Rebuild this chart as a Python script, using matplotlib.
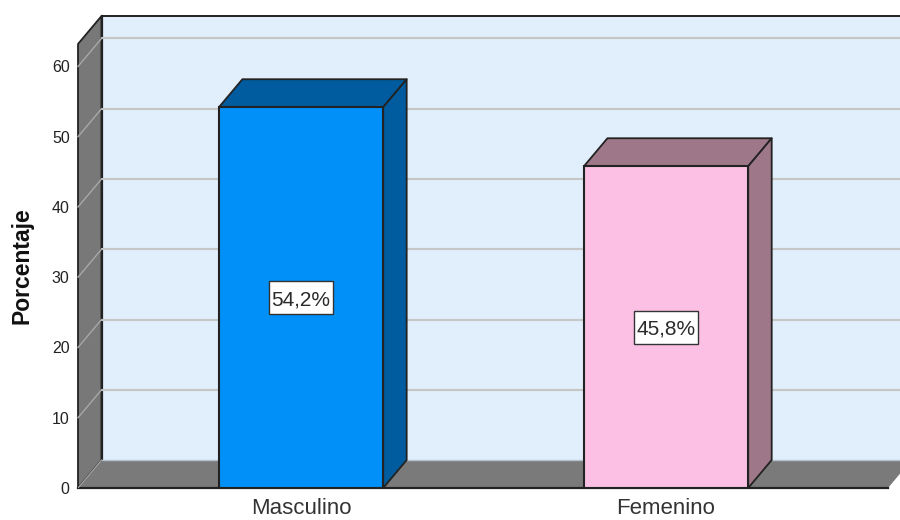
import matplotlib
matplotlib.use('Agg')
import matplotlib.pyplot as plt
from matplotlib.patches import Polygon, Rectangle

plt.rcParams['font.family'] = ['Liberation Sans', 'DejaVu Sans']

categories = ['Masculino', 'Femenino']
values = [54.2, 45.8]
value_labels = ['54,2%', '45,8%']
yticks = [0, 10, 20, 30, 40, 50, 60]
front_colors = ['#0090f8', '#fbc0e3']
shade_colors = ['#005c9e', '#9e7889']

bar_w = 0.45
dx = 23.5 / 365
dy = 28 / 7.03
x0, x1 = -0.611, 1.608
y1 = 63.2
box_w = 64 / 365
box_h = 33 / 7.03
edge = '#222222'


def poly(ax, pts, fc, ec=edge, lw=1.3, z=1):
    ax.add_patch(Polygon(pts, closed=True, facecolor=fc, edgecolor=ec, linewidth=lw,
                         zorder=z, clip_on=False, joinstyle='round'))


fig = plt.figure(figsize=(9, 5.2), dpi=100)
ax = fig.add_axes([78 / 900, 32 / 520, 810 / 900, 444 / 520])
ax.set_xlim(x0, x1)
ax.set_ylim(0, y1)
for s in ax.spines.values():
    s.set_visible(False)
ax.patch.set_visible(False)

# back wall, left wall, floor
poly(ax, [(x0 + dx, dy), (x1 + dx, dy), (x1 + dx, y1 + dy), (x0 + dx, y1 + dy)], '#e1eefb', ec='none', z=1)
poly(ax, [(x0, 0), (x0 + dx, dy), (x0 + dx, y1 + dy), (x0, y1)], '#787878', z=2)
poly(ax, [(x0, 0), (x1, 0), (x1 + dx, dy), (x0 + dx, dy)], '#7a7a7a', ec='none', z=2)
ax.plot([x0 + dx, x1 + dx], [y1 + dy, y1 + dy], color=edge, lw=1.4, zorder=3, clip_on=False)
ax.plot([x0, x1], [0, 0], color=edge, lw=1.6, zorder=3, clip_on=False)
ax.plot([x0 + dx, x0 + dx], [dy, y1 + dy], color=edge, lw=1.6, zorder=3, clip_on=False)
ax.plot([x0 + dx, x1 + dx], [dy, dy], color='#b4c0cc', lw=1, zorder=3, clip_on=False)
ax.plot([x0, x0 + dx], [0, dy], color='#a8a8a8', lw=0.8, zorder=3)

# gridlines on wall
for t in yticks[1:]:
    ax.plot([x0 + dx, x1 + dx], [t + dy, t + dy], color='#c6c6c6', lw=1.5, zorder=3, clip_on=False)
    ax.plot([x0, x0 + dx], [t, t + dy], color='#a8a8a8', lw=1, zorder=3, clip_on=False)

# bars
for i, v in enumerate(values):
    l, r = i - bar_w / 2, i + bar_w / 2
    poly(ax, [(l, v), (r, v), (r + dx, v + dy), (l + dx, v + dy)], shade_colors[i], z=4)
    poly(ax, [(r, 0), (r + dx, dy), (r + dx, v + dy), (r, v)], shade_colors[i], z=4)
    ax.bar(i, v, width=bar_w, color=front_colors[i], edgecolor=edge, linewidth=1.5, zorder=5)
    ax.add_patch(Rectangle((i - box_w / 2, v / 2 - box_h / 2), box_w, box_h, facecolor='white',
                           edgecolor='#333333', linewidth=1, zorder=6))
    ax.text(i, v / 2, value_labels[i], ha='center', va='center_baseline', fontsize=15, color='#2a2a2a', zorder=7)

ax.set_xticks([0, 1])
ax.set_xticklabels(categories, fontsize=16, color='#333333')
ax.set_yticks(yticks)
ax.set_yticklabels([str(t) for t in yticks], fontsize=11.5, color='#222222')
ax.tick_params(axis='x', length=0, pad=7)
ax.tick_params(axis='y', length=0, pad=6)
ax.set_ylabel('Porcentaje', fontsize=16.5, fontweight='bold', color='#111111', va='center')
ax.yaxis.set_label_coords(-0.069, 0.5)

fig.savefig('out.png', dpi=100)
